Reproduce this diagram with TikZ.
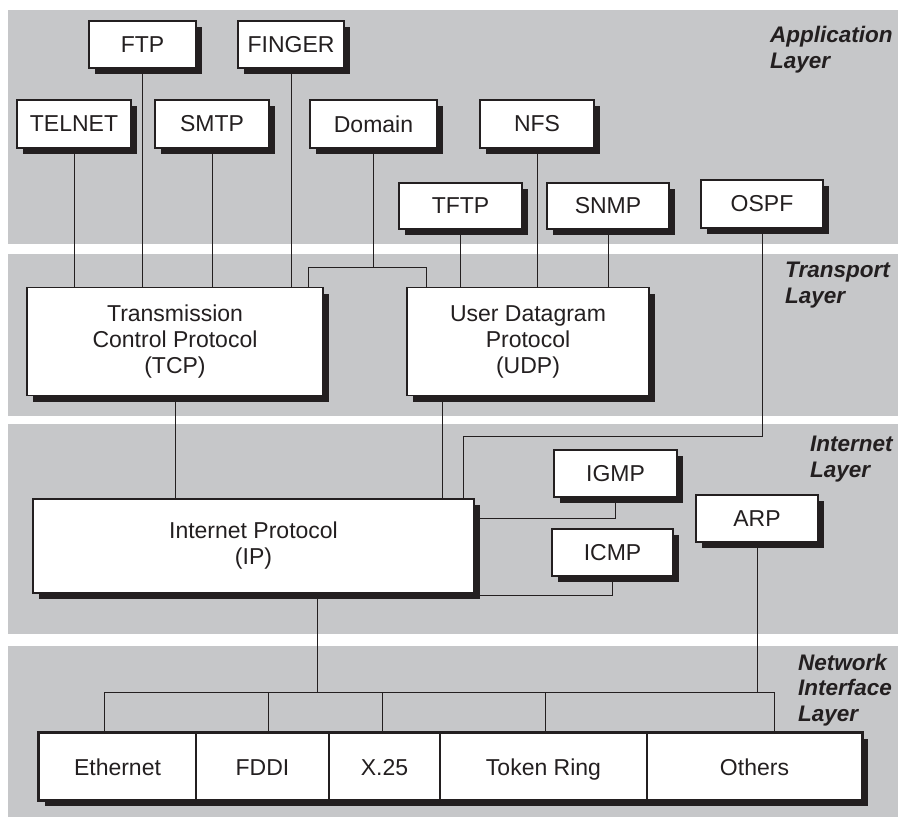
\documentclass[tikz,border=0pt]{standalone}
\usepackage{fontspec}
\setmainfont{Liberation Sans}
\usetikzlibrary{shadows}
\definecolor{band}{HTML}{C6C7C9}
\definecolor{ink}{HTML}{231F20}
\begin{document}
\begin{tikzpicture}[x=1pt,y=-1pt,
  box/.style={draw=ink,line width=1.8pt,fill=white,inner sep=0pt,text=ink,align=center,
    font=\fontsize{23}{26}\selectfont,
    drop shadow={shadow xshift=5.5pt,shadow yshift=-6pt,fill=ink,opacity=1}},
  cell/.style={draw=ink,line width=1.2pt,fill=white,inner sep=0pt,text=ink,
    text height=17pt,text depth=0pt,
    font=\fontsize{23}{26}\selectfont},
  conn/.style={draw=ink,line width=1pt},
  layerlab/.style={anchor=base west,text=ink,align=left,inner sep=0pt,
    font=\fontsize{22.5}{25.5}\selectfont\bfseries\itshape}]
\useasboundingbox (0,0) rectangle (898,817);
% bands
\fill[band] (8,10) rectangle (898,244);
\fill[band] (8,254) rectangle (898,416);
\fill[band] (8,424) rectangle (898,634);
\fill[band] (8,646) rectangle (898,817);
% layer labels (anchor at baseline of last line)
\node[layerlab] (lapp) at (770,68) {Application\\Layer};
\node[layerlab] (ltra) at (785,303) {Transport\\Layer};
\node[layerlab] (lint) at (810,477) {Internet\\Layer};
\node[layerlab] (lnet) at (798,721) {Network\\Interface\\Layer};
% application boxes
\node[box,minimum width=107,minimum height=47] (ftp) at (142.5,44.5) {FTP};
\node[box,minimum width=106,minimum height=47] (finger) at (291,44.5) {FINGER};
\node[box,minimum width=114,minimum height=48] (telnet) at (74,124) {TELNET};
\node[box,minimum width=114,minimum height=48] (smtp) at (212,124) {SMTP};
\node[box,minimum width=127,minimum height=48] (domain) at (373.5,124) {Domain};
\node[box,minimum width=114,minimum height=48] (nfs) at (537,124) {NFS};
\node[box,minimum width=123,minimum height=46] (tftp) at (460.5,206) {TFTP};
\node[box,minimum width=122,minimum height=46] (snmp) at (608,206) {SNMP};
\node[box,minimum width=122,minimum height=48] (ospf) at (762,204) {OSPF};
% transport
\node[box,minimum width=296,minimum height=108] (tcp) at (175,341.5) {Transmission\\Control Protocol\\(TCP)};
\node[box,minimum width=242,minimum height=108] (udp) at (528,341.5) {User Datagram\\Protocol\\(UDP)};
% internet
\node[box,minimum width=441,minimum height=94] (ip) at (253.5,546) {Internet Protocol\\(IP)};
\node[box,minimum width=123,minimum height=47] (igmp) at (615.5,473.5) {IGMP};
\node[box,minimum width=121,minimum height=47] (icmp) at (612.5,552.5) {ICMP};
\node[box,minimum width=122,minimum height=47] (arp) at (757,518.5) {ARP};
% network interface
\node[box,minimum width=823,minimum height=67] (net) at (450.5,766.5) {};
\node[cell,minimum width=157,minimum height=67] (eth) at (117.5,766.5) {Ethernet};
\node[cell,minimum width=133,minimum height=67] (fddi) at (262.5,766.5) {FDDI};
\node[cell,minimum width=111,minimum height=67] (x25) at (384.5,766.5) {X.25};
\node[cell,minimum width=207,minimum height=67] (tok) at (543.5,766.5) {Token Ring};
\node[cell,minimum width=215,minimum height=67] (oth) at (754.5,766.5) {Others};
\draw[draw=ink,line width=1.8pt] (net.north west) rectangle (net.south east);
% coordinates
\coordinate (d1) at (308,267);
\coordinate (d2) at (426,267);
\coordinate (o1) at (463,436);
\coordinate (u1) at (442,397);
\coordinate (g1) at (474,518);
\coordinate (c1) at (474,595);
\coordinate (bus) at (317,692);
\coordinate (b1) at (104,692);
\coordinate (b2) at (268,692);
\coordinate (b3) at (382,692);
\coordinate (b4) at (545,692);
\coordinate (b5) at (774,692);
% connectors application -> transport
\draw[conn] (telnet.south) -- (telnet.south |- tcp.north);
\draw[conn] (ftp.south) -- (ftp.south |- tcp.north);
\draw[conn] (smtp.south) -- (smtp.south |- tcp.north);
\draw[conn] (finger.south) -- (finger.south |- tcp.north);
\draw[conn] (domain.south) -- (domain.south |- d1);
\draw[conn] (d1 |- tcp.north) -- (d1) -- (d2) -- (d2 |- udp.north);
\draw[conn] (tftp.south) -- (tftp.south |- udp.north);
\draw[conn] (nfs.south) -- (nfs.south |- udp.north);
\draw[conn] (snmp.south) -- (snmp.south |- udp.north);
\draw[conn] (ospf.south) |- (o1) -- (o1 |- ip.north);
% transport -> internet
\draw[conn] (tcp.south) -- (tcp.south |- ip.north);
\draw[conn] (u1) -- (u1 |- ip.north);
\draw[conn] (igmp.south) |- (g1);
\draw[conn] (icmp.south) |- (c1);
% internet -> network
\draw[conn] (bus |- ip.south) -- (bus);
\draw[conn] (arp.south) -- (arp.south |- bus);
\draw[conn] (b1) -- (b5);
\draw[conn] (b1) -- (b1 |- net.north);
\draw[conn] (b2) -- (b2 |- net.north);
\draw[conn] (b3) -- (b3 |- net.north);
\draw[conn] (b4) -- (b4 |- net.north);
\draw[conn] (b5) -- (b5 |- net.north);
\end{tikzpicture}
\end{document}
